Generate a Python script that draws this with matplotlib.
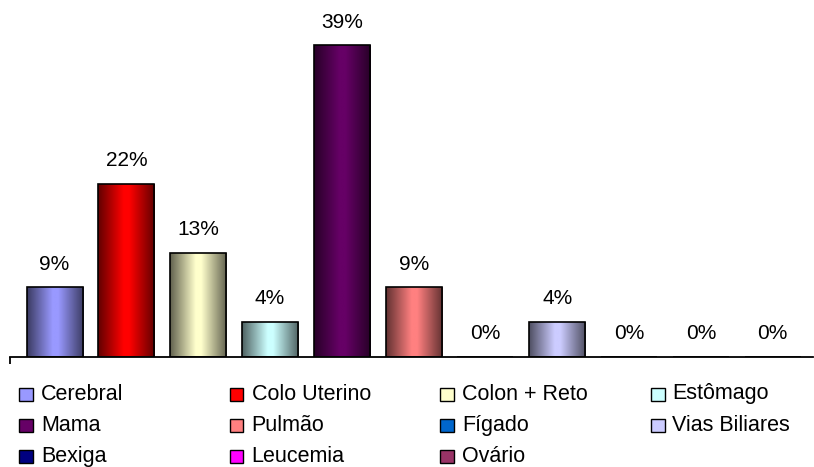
import numpy as np
import matplotlib
matplotlib.use("Agg")
import matplotlib.pyplot as plt
from matplotlib.colors import LinearSegmentedColormap, to_rgb
from matplotlib.patches import Rectangle

plt.rcParams['font.family'] = ['Liberation Sans', 'DejaVu Sans']

categories = ["Cerebral", "Colo Uterino", "Colon + Reto", "Estômago", "Mama", "Pulmão",
              "Fígado", "Vias Biliares", "Bexiga", "Leucemia", "Ovário"]
cases = [2, 5, 3, 1, 9, 2, 0, 1, 0, 0, 0]
colors = ["#9999FF", "#FF0000", "#FFFFCC", "#CCFFFF", "#660066", "#FF8080",
          "#0066CC", "#CCCCFF", "#000080", "#FF00FF", "#993366"]

share = np.array(cases) / sum(cases) * 100

W, H = 814, 467
fig = plt.figure(figsize=(W / 100, H / 100), dpi=100)

base_y, top_y = 356.5, 10
ax = fig.add_axes([10 / W, 1 - base_y / H, (813 - 10) / W, (base_y - top_y) / H])
x = np.arange(len(categories))
ax.set_xlim(-0.62, 10.56)
ax.set_ylim(0, (base_y - top_y) / 7.95)

bars = ax.bar(x, share, width=0.78, facecolor='none', edgecolor='black', linewidth=1.2, zorder=3)

# shaded fill: dark at both sides, full colour in the middle
grad = np.linspace(0, 1, 256).reshape(1, -1)
for bar, c in zip(bars, colors):
    if bar.get_height() <= 0:
        continue
    rgb = np.array(to_rgb(c))
    cmap = LinearSegmentedColormap.from_list(
        "shade", [(0, rgb * 0.38), (0.45, rgb), (0.55, rgb), (1, rgb * 0.38)])
    x0, w, h = bar.get_x(), bar.get_width(), bar.get_height()
    im = ax.imshow(grad, cmap=cmap, extent=(x0, x0 + w, 0, h), aspect='auto',
                   interpolation='bilinear', zorder=2)
    im.set_clip_path(bar)

for xi, v in zip(x, share):
    ax.annotate(f"{v:.0f}%", xy=(xi, v), xytext=(0, 12.8), textcoords='offset points',
                ha='center', va='baseline', fontsize=15, color='black')

for s in ['top', 'right', 'left']:
    ax.spines[s].set_visible(False)
ax.spines['bottom'].set_linewidth(1.3)
ax.set_yticks([])
ax.set_xticks([ax.get_xlim()[0]])
ax.set_xticklabels([])
ax.tick_params(axis='x', direction='out', length=5, width=1.3)

# legend laid out as a 4-column grid below the axis
baselines = [399.5, 430.7, 461.7]
for i, (name, c) in enumerate(zip(categories, colors)):
    row, col = divmod(i, 4)
    sx = 19 + 210.5 * col
    sb = baselines[row] + 1.5
    fig.patches.append(Rectangle((sx / W, 1 - sb / H), 14 / W, 13 / H, transform=fig.transFigure,
                                 facecolor=c, edgecolor='black', linewidth=1.0))
    fig.text((sx + 22) / W, 1 - baselines[row] / H, name, ha='left', va='baseline',
             fontsize=15.5, color='black')

fig.savefig("out.png", dpi=100)
